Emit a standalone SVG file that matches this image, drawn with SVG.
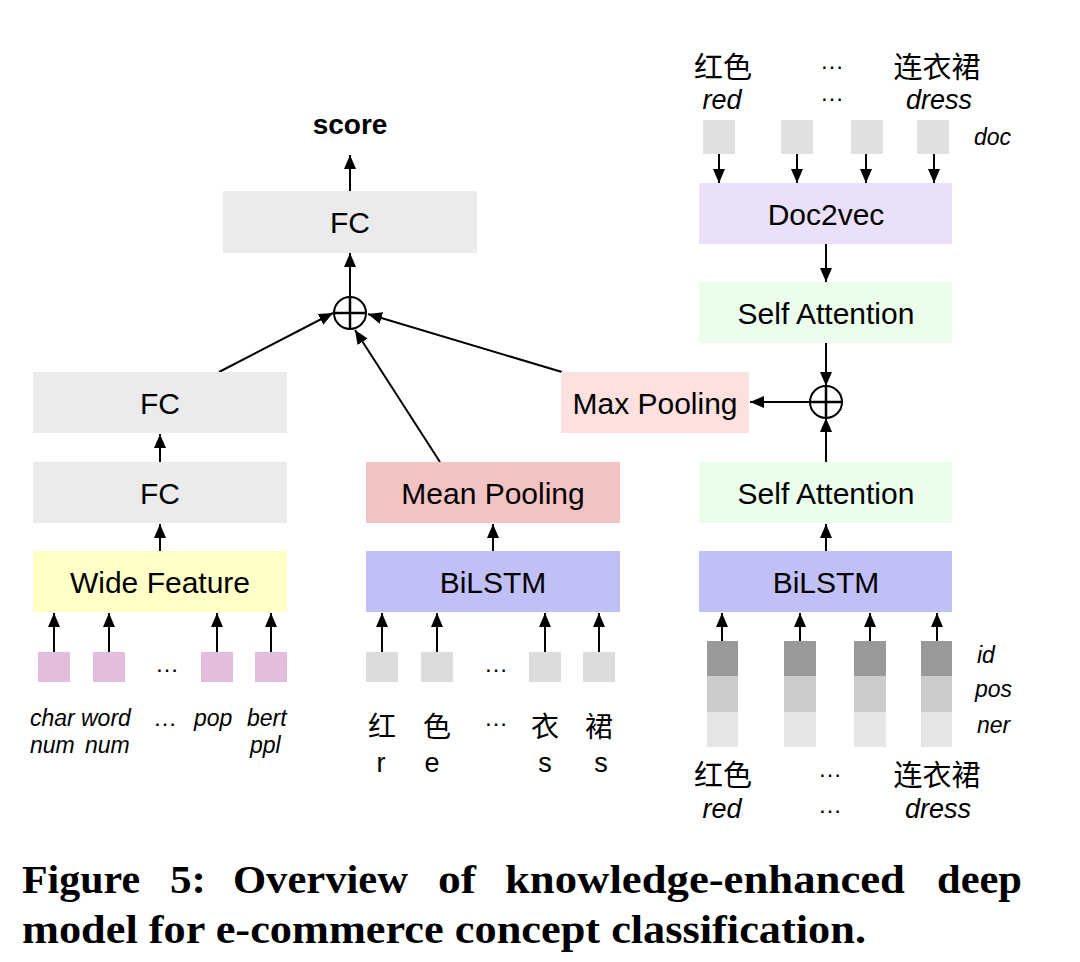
<svg xmlns="http://www.w3.org/2000/svg" width="1080" height="962" viewBox="0 0 1080 962">
<style>
.lbl{font-family:"Liberation Sans",Arial,sans-serif;font-size:30px;fill:#000;text-anchor:middle}
.it{font-family:"Liberation Sans",Arial,sans-serif;font-style:italic;font-size:23px;fill:#000}
.itc{font-family:"Liberation Sans",Arial,sans-serif;font-style:italic;font-size:27px;fill:#000;text-anchor:middle}
.cjk{font-family:"Liberation Sans","Noto Sans CJK SC",sans-serif;font-size:28px;fill:#000;text-anchor:middle}
.reg{font-family:"Liberation Sans",Arial,sans-serif;font-size:27px;fill:#000;text-anchor:middle}
.dots{font-family:"Liberation Sans",Arial,sans-serif;font-size:24px;fill:#000;text-anchor:middle}
.cap{font-family:"Liberation Serif","Times New Roman",serif;font-weight:bold;font-size:41px;fill:#000}
.ln{stroke:#000;stroke-width:2;fill:none;marker-end:url(#ah)}
.op{fill:#fff;stroke:#000;stroke-width:2}
</style>
<defs>
<marker id="ah" markerUnits="userSpaceOnUse" markerWidth="15" markerHeight="12" refX="14" refY="6" orient="auto">
<path d="M0,0 L14,6 L0,12 z" fill="#000"/>
</marker>
</defs>
<rect width="1080" height="962" fill="#fff"/>

<g id="connectors">
<line class="ln" x1="350" y1="191" x2="350" y2="155"/>
<line class="ln" x1="350" y1="297" x2="350" y2="253"/>
<line class="ln" x1="219" y1="372" x2="333" y2="313"/>
<line class="ln" x1="440" y1="462" x2="355" y2="330"/>
<line class="ln" x1="562" y1="372" x2="368" y2="314"/>
<line class="ln" x1="160" y1="462" x2="160" y2="434"/>
<line class="ln" x1="160" y1="551" x2="160" y2="524"/>
<line class="ln" x1="493" y1="551" x2="493" y2="524"/>
<line class="ln" x1="826" y1="551" x2="826" y2="524"/>
<line class="ln" x1="826" y1="462" x2="826" y2="418"/>
<line class="ln" x1="826" y1="343" x2="826" y2="386"/>
<line class="ln" x1="826" y1="244" x2="826" y2="282"/>
<line class="ln" x1="810" y1="402" x2="750" y2="402"/>
<line class="ln" x1="719" y1="154" x2="719" y2="183"/>
<line class="ln" x1="797" y1="154" x2="797" y2="183"/>
<line class="ln" x1="866" y1="154" x2="866" y2="183"/>
<line class="ln" x1="934" y1="154" x2="934" y2="183"/>
<line class="ln" x1="54" y1="652" x2="54" y2="613"/>
<line class="ln" x1="109" y1="652" x2="109" y2="613"/>
<line class="ln" x1="217" y1="652" x2="217" y2="613"/>
<line class="ln" x1="271" y1="652" x2="271" y2="613"/>
<line class="ln" x1="382" y1="652" x2="382" y2="613"/>
<line class="ln" x1="437" y1="652" x2="437" y2="613"/>
<line class="ln" x1="545" y1="652" x2="545" y2="613"/>
<line class="ln" x1="599" y1="652" x2="599" y2="613"/>
<line class="ln" x1="722" y1="641" x2="722" y2="613"/>
<line class="ln" x1="800" y1="641" x2="800" y2="613"/>
<line class="ln" x1="870" y1="641" x2="870" y2="613"/>
<line class="ln" x1="937" y1="641" x2="937" y2="613"/>
</g>

<g id="score"><text x="350" y="134" text-anchor="middle" style="font-family:'Liberation Sans',Arial,sans-serif;font-weight:bold;font-size:28px">score</text></g>
<g id="fc-top"><rect x="223" y="191" width="254" height="62" fill="#ebebeb"/><text class="lbl" x="350" y="233">FC</text></g>
<g id="oplus1"><circle class="op" cx="350" cy="313" r="16"/><line x1="334" y1="313" x2="366" y2="313" stroke="#000" stroke-width="2.5"/><line x1="350" y1="297" x2="350" y2="329" stroke="#000" stroke-width="2.5"/></g>
<g id="fc-left-upper"><rect x="33" y="372" width="254" height="61" fill="#ebebeb"/><text class="lbl" x="160" y="414">FC</text></g>
<g id="fc-left-lower"><rect x="33" y="462" width="254" height="61" fill="#ebebeb"/><text class="lbl" x="160" y="504">FC</text></g>
<g id="wide-feature"><rect x="33" y="551" width="254" height="61" fill="#ffffc8"/><text class="lbl" x="160" y="593">Wide Feature</text></g>
<g id="mean-pooling"><rect x="366" y="462" width="254" height="61" fill="#f3c2c2"/><text class="lbl" x="493" y="504">Mean Pooling</text></g>
<g id="bilstm-mid"><rect x="366" y="551" width="254" height="61" fill="#c0c0f7"/><text class="lbl" x="493" y="593">BiLSTM</text></g>
<g id="max-pooling"><rect x="561" y="372" width="188" height="61" fill="#fce1de"/><text class="lbl" x="655" y="414">Max Pooling</text></g>
<g id="oplus2"><circle class="op" cx="826" cy="402" r="16"/><line x1="810" y1="402" x2="842" y2="402" stroke="#000" stroke-width="2.5"/><line x1="826" y1="386" x2="826" y2="418" stroke="#000" stroke-width="2.5"/></g>
<g id="doc2vec"><rect x="699" y="183" width="253" height="61" fill="#ebe0f9"/><text class="lbl" x="826" y="225">Doc2vec</text></g>
<g id="self-attention-upper"><rect x="699" y="282" width="253" height="61" fill="#ebfdeb"/><text class="lbl" x="826" y="324">Self Attention</text></g>
<g id="self-attention-lower"><rect x="699" y="462" width="253" height="61" fill="#ebfdeb"/><text class="lbl" x="826" y="504">Self Attention</text></g>
<g id="bilstm-right"><rect x="699" y="551" width="253" height="61" fill="#c0c0f7"/><text class="lbl" x="826" y="593">BiLSTM</text></g>

<g id="wide-inputs">
<rect x="38" y="652" width="32" height="30" fill="#e4bcdc"/>
<rect x="93" y="652" width="32" height="30" fill="#e4bcdc"/>
<rect x="201" y="652" width="32" height="30" fill="#e4bcdc"/>
<rect x="255" y="652" width="32" height="30" fill="#e4bcdc"/>
<text class="dots" x="167" y="672">…</text>
<text class="it" x="30" y="726">char</text>
<text class="it" x="30" y="753">num</text>
<text class="it" x="81" y="726">word</text>
<text class="it" x="85" y="753">num</text>
<text class="dots" x="165" y="726">…</text>
<text class="it" x="194" y="726">pop</text>
<text class="it" x="247" y="726">bert</text>
<text class="it" x="250" y="753">ppl</text>
</g>

<g id="char-inputs">
<rect x="366" y="652" width="32" height="30" fill="#dcdcdc"/>
<rect x="421" y="652" width="32" height="30" fill="#dcdcdc"/>
<rect x="529" y="652" width="32" height="30" fill="#dcdcdc"/>
<rect x="583" y="652" width="32" height="30" fill="#dcdcdc"/>
<text class="dots" x="496" y="672">…</text>
<text class="cjk" x="382" y="737">红</text>
<text class="cjk" x="437" y="737">色</text>
<text class="dots" x="496" y="726">…</text>
<text class="cjk" x="545" y="737">衣</text>
<text class="cjk" x="599" y="737">裙</text>
<text class="reg" x="381" y="772">r</text>
<text class="reg" x="432" y="772">e</text>
<text class="reg" x="545" y="772">s</text>
<text class="reg" x="601" y="772">s</text>
</g>

<g id="word-inputs">
<rect x="707" y="641" width="31" height="35" fill="#999999"/><rect x="707" y="676" width="31" height="36" fill="#cccccc"/><rect x="707" y="712" width="31" height="35" fill="#e5e5e5"/>
<rect x="784" y="641" width="32" height="35" fill="#999999"/><rect x="784" y="676" width="32" height="36" fill="#cccccc"/><rect x="784" y="712" width="32" height="35" fill="#e5e5e5"/>
<rect x="854" y="641" width="32" height="35" fill="#999999"/><rect x="854" y="676" width="32" height="36" fill="#cccccc"/><rect x="854" y="712" width="32" height="35" fill="#e5e5e5"/>
<rect x="921" y="641" width="31" height="35" fill="#999999"/><rect x="921" y="676" width="31" height="36" fill="#cccccc"/><rect x="921" y="712" width="31" height="35" fill="#e5e5e5"/>
<text class="it" x="977" y="663">id</text>
<text class="it" x="975" y="697">pos</text>
<text class="it" x="977" y="733">ner</text>
<text class="cjk" x="723" y="786" style="font-size:29px">红色</text>
<text class="itc" x="722" y="818">red</text>
<text class="dots" x="830" y="777">…</text>
<text class="dots" x="830" y="813">…</text>
<text class="cjk" x="937" y="786" style="font-size:29px">连衣裙</text>
<text class="itc" x="938" y="818">dress</text>
</g>

<g id="doc-inputs">
<text class="cjk" x="723" y="78" style="font-size:29px">红色</text>
<text class="itc" x="722" y="109">red</text>
<text class="dots" x="832" y="69">…</text>
<text class="dots" x="832" y="101">…</text>
<text class="cjk" x="937" y="78" style="font-size:29px">连衣裙</text>
<text class="itc" x="939" y="109">dress</text>
<rect x="703" y="120" width="32" height="34" fill="#e0e0e0"/>
<rect x="781" y="120" width="32" height="34" fill="#e0e0e0"/>
<rect x="851" y="120" width="32" height="34" fill="#e0e0e0"/>
<rect x="917" y="120" width="32" height="34" fill="#e0e0e0"/>
<text class="it" x="974" y="145">doc</text>
</g>

<g id="caption">
<text class="cap" x="22" y="893" textLength="118" lengthAdjust="spacingAndGlyphs">Figure</text>
<text class="cap" x="170" y="893" textLength="36" lengthAdjust="spacingAndGlyphs">5:</text>
<text class="cap" x="233" y="893" textLength="175" lengthAdjust="spacingAndGlyphs">Overview</text>
<text class="cap" x="438" y="893" textLength="38" lengthAdjust="spacingAndGlyphs">of</text>
<text class="cap" x="505" y="893" textLength="400" lengthAdjust="spacingAndGlyphs">knowledge-enhanced</text>
<text class="cap" x="937" y="893" textLength="85" lengthAdjust="spacingAndGlyphs">deep</text>
<text class="cap" x="22" y="943" textLength="844" lengthAdjust="spacingAndGlyphs">model for e-commerce concept classification.</text>
</g>
</svg>
